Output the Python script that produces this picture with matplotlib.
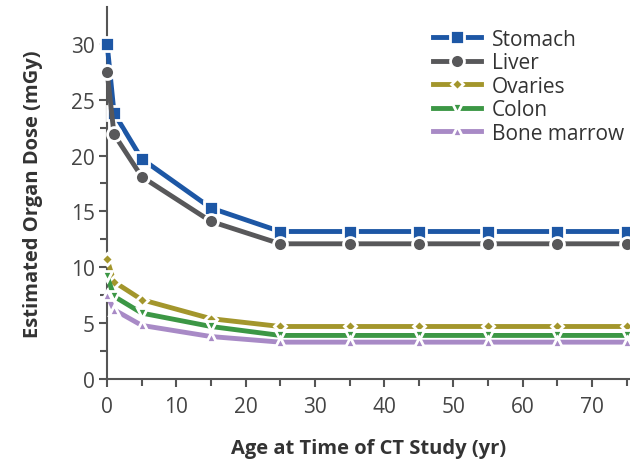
import matplotlib
matplotlib.use("Agg")
import matplotlib.pyplot as plt

age = [0, 1, 5, 15, 25, 35, 45, 55, 65, 75]
stomach = [30.0, 23.8, 19.7, 15.3, 13.2, 13.2, 13.2, 13.2, 13.2, 13.2]
liver = [27.5, 21.9, 18.1, 14.1, 12.1, 12.1, 12.1, 12.1, 12.1, 12.1]
ovaries = [10.7, 8.7, 7.1, 5.4, 4.7, 4.7, 4.7, 4.7, 4.7, 4.7]
colon = [9.2, 7.4, 5.9, 4.7, 3.9, 3.9, 3.9, 3.9, 3.9, 3.9]
marrow = [7.5, 6.2, 4.8, 3.8, 3.3, 3.3, 3.3, 3.3, 3.3, 3.3]

plt.rcParams['font.family'] = ['Open Sans', 'DejaVu Sans']

fig = plt.figure(figsize=(6.3, 4.64), dpi=100)
ax = fig.add_axes([0.17, 0.181, 0.83, 0.802])

series = [
    ("Stomach", stomach, "#1d57a5", "s", 10),
    ("Liver", liver, "#58585a", "o", 10),
    ("Ovaries", ovaries, "#a3962c", "D", 6),
    ("Colon", colon, "#3c9745", "v", 7),
    ("Bone marrow", marrow, "#a88ac6", "^", 7),
]
for name, vals, col, mk, ms in series:
    ax.plot(age, vals, color=col, lw=3.5, marker=mk, ms=ms,
            markeredgecolor="white", markeredgewidth=2,
            label=name, clip_on=False, zorder=3)

ax.set_xlim(0, 75.5)
ax.set_ylim(0, 33.3)
ax.set_xticks(range(0, 80, 10))
ax.set_xticks(range(5, 80, 10), minor=True)
ax.set_yticks(range(0, 35, 5))
ax.set_yticks([2.5, 7.5, 12.5, 17.5, 22.5, 27.5], minor=True)

for s in ["top", "right"]:
    ax.spines[s].set_visible(False)
for s in ["left", "bottom"]:
    ax.spines[s].set_color("#555555")
    ax.spines[s].set_linewidth(1.5)
ax.tick_params(which="both", colors="#555555", width=1.5, labelsize=15, labelcolor="#444444")
ax.tick_params(axis="x", pad=6)
ax.tick_params(axis="y", pad=3)
ax.tick_params(which="major", length=6)
ax.tick_params(which="minor", length=5)

ax.set_xlabel("Age at Time of CT Study (yr)", fontsize=14.5, fontweight="bold", color="#333333", labelpad=15)
ax.set_ylabel("Estimated Organ Dose (mGy)", fontsize=14.5, fontweight="bold", color="#333333", labelpad=20)

leg = ax.legend(loc="upper right", bbox_to_anchor=(1.013, 0.975), frameon=False, fontsize=15,
                handlelength=2.3, handletextpad=0.55, labelspacing=0.12, borderaxespad=0.2)
for t in leg.get_texts():
    t.set_color("#333333")

fig.savefig("out.png", dpi=100)
